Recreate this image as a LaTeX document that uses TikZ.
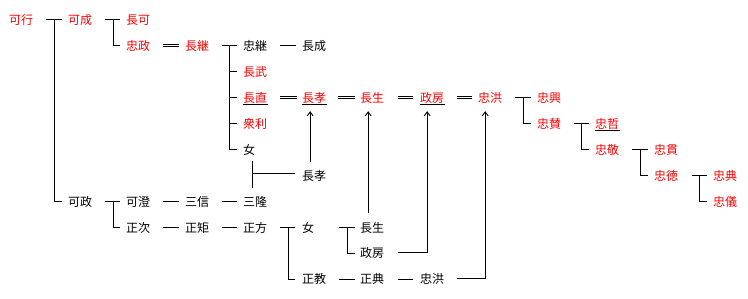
\documentclass[tikz,border=0pt]{standalone}
\usepackage{fontspec}
\setmainfont{Noto Sans CJK JP}
\usetikzlibrary{arrows.meta,calc}
\begin{document}
\begin{tikzpicture}[x=1pt,y=-1pt,
  nm/.style={anchor=west,inner sep=0pt,text height=10.6pt,text depth=1.4pt,font=\fontsize{12}{12}\selectfont},
  rn/.style={nm,text=red},
  bn/.style={nm,text=black},
  ln/.style={line width=0.9pt,black},
  dbl/.style={line width=0.8pt,double,double distance=1.6pt},
  arr/.style={ln,-{Straight Barb[length=4pt,width=6pt]}},
  ul/.style={line width=0.9pt,black}]
\path[use as bounding box,fill=white] (0,0) rectangle (748,299);
% row 1
\node[rn] (kagyo) at (9,19.5) {可行};
\node[rn] (kasei) at (68,19.5) {可成};
\node[rn] (chka) at (126,19.5) {長可};
% row 2
\node[rn] (tmasa) at (126,45.5) {忠政};
\node[rn] (ntsugu) at (185,45.5) {長継};
\node[bn] (ttsugu) at (243,45.5) {忠継};
\node[bn] (nshige) at (302,45.5) {長成};
% row 3
\node[rn] (ntake) at (243,71.5) {長武};
% row 4
\node[rn] (nnao) at (243,97.5) {長直};
\node[rn] (ta) at (302,97.5) {長孝};
\node[rn] (sa) at (360,97.5) {長生};
\node[rn] (pa) at (420,97.5) {政房};
\node[rn] (ca) at (478,97.5) {忠洪};
\node[rn] (toki) at (537,97.5) {忠興};
% row 5
\node[rn] (shuri) at (243,123.5) {衆利};
\node[rn] (tsan) at (537,123.5) {忠賛};
\node[rn] (ttet) at (595,123.5) {忠哲};
% row 6
\node[bn] (onna1) at (243,149.5) {女};
\node[rn] (tkei) at (595,149.5) {忠敬};
\node[rn] (tkan) at (654,149.5) {忠貫};
% row 7
\node[bn] (tb) at (302,175.5) {長孝};
\node[rn] (ttoku) at (654,175.5) {忠徳};
\node[rn] (tten) at (713,175.5) {忠典};
% row 8
\node[bn] (kasei2) at (68,201.5) {可政};
\node[bn] (kacho) at (126,201.5) {可澄};
\node[bn] (sshin) at (185,201.5) {三信};
\node[bn] (sryu) at (243,201.5) {三隆};
\node[rn] (tgi) at (713,201.5) {忠儀};
% row 9
\node[bn] (mtsugu) at (126,227.5) {正次};
\node[bn] (mnori) at (185,227.5) {正矩};
\node[bn] (mkata) at (243,227.5) {正方};
\node[bn] (onna2) at (302,227.5) {女};
\node[bn] (sb) at (360,227.5) {長生};
% row 10
\node[bn] (pb) at (360,253) {政房};
% row 11
\node[bn] (mkyo) at (302,279) {正教};
\node[bn] (mten) at (360,279) {正典};
\node[bn] (cb) at (420,279) {忠洪};

% branches
\draw[ln] ([xshift=13pt]kagyo.east) -- ([xshift=-6pt]kasei.west);
\draw[ln] ([xshift=-14pt]kasei.west) |- ([xshift=-6pt]kasei2.west);
\draw[ln] ([xshift=13pt]kasei.east) -- ([xshift=-6pt]chka.west);
\draw[ln] ([xshift=-13pt]chka.west) |- ([xshift=-6pt]tmasa.west);
\draw[dbl] ([xshift=13pt]tmasa.east) -- ([xshift=-6pt]ntsugu.west);
\draw[ln] ([xshift=13pt]ntsugu.east) -- ([xshift=-6pt]ttsugu.west);
\draw[ln] ([xshift=-14pt]ttsugu.west) |- ([xshift=-6pt]onna1.west);
\draw[ln] ([xshift=-14pt]ntake.west) -- ([xshift=-6pt]ntake.west);
\draw[ln] ([xshift=-14pt]nnao.west) -- ([xshift=-6pt]nnao.west);
\draw[ln] ([xshift=-14pt]shuri.west) -- ([xshift=-6pt]shuri.west);
\draw[ln] ([xshift=13pt]ttsugu.east) -- ([xshift=-6pt]nshige.west);
% double lines row 4
\draw[dbl] ([xshift=13pt]nnao.east) -- ([xshift=-5pt]ta.west);
\draw[dbl] ([xshift=12pt]ta.east) -- ([xshift=-5pt]sa.west);
\draw[dbl] ([xshift=14pt]sa.east) -- ([xshift=-7pt]pa.west);
\draw[dbl] ([xshift=13pt]pa.east) -- ([xshift=-6pt]ca.west);
% right tree
\draw[ln] ([xshift=13pt]ca.east) -- ([xshift=-6pt]toki.west);
\draw[ln] ([xshift=-14pt]toki.west) |- ([xshift=-6pt]tsan.west);
\draw[ln] ([xshift=13pt]tsan.east) -- ([xshift=-6pt]ttet.west);
\draw[ln] ([xshift=-14pt]ttet.west) |- ([xshift=-6pt]tkei.west);
\draw[ln] ([xshift=13pt]tkei.east) -- ([xshift=-6pt]tkan.west);
\draw[ln] ([xshift=-14pt]tkan.west) |- ([xshift=-6pt]ttoku.west);
\draw[ln] ([xshift=14pt]ttoku.east) -- ([xshift=-6pt]tten.west);
\draw[ln] ([xshift=-14pt]tten.west) |- ([xshift=-6pt]tgi.west);
% 女 + 三隆 -> 長孝
\coordinate (j1) at ([xshift=3pt,yshift=-5.5pt]onna1.south);
\coordinate (j2) at ([xshift=-3pt,yshift=7.5pt]sryu.north);
\draw[ln] (j1) -- (j2 -| j1);
\draw[ln] ([yshift=2pt]tb.west -| j1) -- ([xshift=-7pt,yshift=2pt]tb.west);
% lower rows
\draw[ln] ([xshift=13pt]kasei2.east) -- ([xshift=-6pt]kacho.west);
\draw[ln] ([xshift=-13pt]kacho.west) |- ([xshift=-6pt]mtsugu.west);
\draw[ln] ([xshift=13pt]kacho.east) -- ([xshift=-6pt]sshin.west);
\draw[ln] ([xshift=13pt]sshin.east) -- ([xshift=-6pt]sryu.west);
\draw[ln] ([xshift=13pt]mtsugu.east) -- ([xshift=-6pt]mnori.west);
\draw[ln] ([xshift=13pt]mnori.east) -- ([xshift=-6pt]mkata.west);
\draw[ln] ([xshift=13pt]mkata.east) -- ([xshift=-7pt]onna2.west);
\draw[ln] ([xshift=-14pt]onna2.west) |- ([xshift=-7pt]mkyo.west);
\draw[ln] ([xshift=25pt]onna2.east) -- ([xshift=-5pt]sb.west);
\draw[ln] ([xshift=-13pt]sb.west) |- ([xshift=-5pt]pb.west);
\draw[ln] ([xshift=13pt]mkyo.east) -- ([xshift=-5pt]mten.west);
\draw[ln] ([xshift=14pt]mten.east) -- ([xshift=-7pt]cb.west);
% arrows
\draw[arr] ([xshift=-4pt,yshift=7.5pt]tb.north) -- ([xshift=-4pt,yshift=-7.5pt]ta.south);
\draw[arr] ([xshift=-4pt,yshift=8pt]sb.north) -- ([xshift=-4pt,yshift=-7.5pt]sa.south);
\draw[arr] ([xshift=14pt,yshift=1pt]pb.east) -| ([xshift=-5pt,yshift=-7.5pt]pa.south);
\draw[arr] ([xshift=13pt,yshift=1pt]cb.east) -| ([xshift=-5pt,yshift=-7.5pt]ca.south);
% underlines
\draw[ul] ([yshift=-0.5pt]nnao.south west) -- ([xshift=1pt,yshift=-0.5pt]nnao.south east);
\draw[ul] ([yshift=-0.5pt]ta.south west) -- ([xshift=1pt,yshift=-0.5pt]ta.south east);
\draw[ul] ([yshift=-0.5pt]pa.south west) -- ([xshift=1pt,yshift=-0.5pt]pa.south east);
\draw[ul] ([yshift=-0.5pt]ttet.south west) -- ([xshift=1pt,yshift=-0.5pt]ttet.south east);
\end{tikzpicture}
\end{document}
